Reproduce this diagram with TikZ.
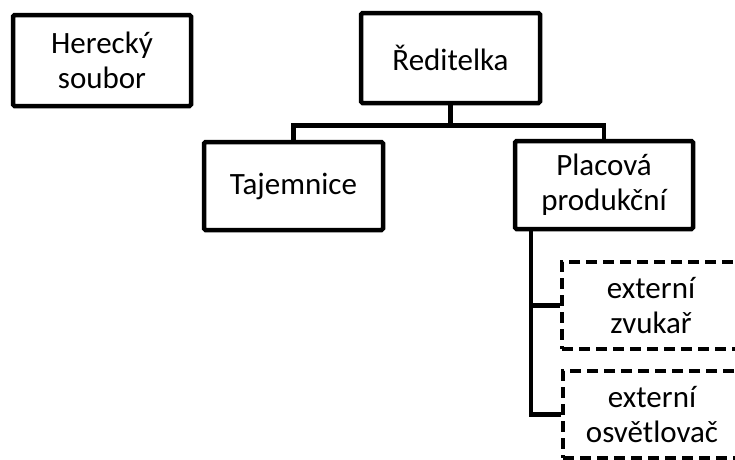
\documentclass[tikz,border=0pt]{standalone}
\usepackage{fontspec}
\setmainfont{Carlito}
\begin{document}
\begin{tikzpicture}[x=1pt,y=-1pt,
  box/.style={draw=black, line width=4.5pt, rounded corners=1.5pt, fill=white,
    align=center, inner sep=0pt, font=\fontsize{31}{35}\selectfont},
  extbox/.style={box, dash pattern=on 11pt off 6pt, rounded corners=0pt},
  link/.style={draw=black, line width=4.5pt}]
  \useasboundingbox (0,0) rectangle (735,459);
  \clip (0,0) rectangle (735,459);

  % management boxes
  \node[box, minimum width=178pt, minimum height=91pt] (her) at (102,60.5) {Herecký\\soubor};
  \node[box, minimum width=179pt, minimum height=90pt] (red) at (450.5,58) {Ředitelka};
  \node[box, minimum width=179pt, minimum height=88pt] (taj) at (293.5,186) {Tajemnice};
  \node[box, minimum width=178pt, minimum height=88pt] (plac) at (604,185) {Placová\\produkční};

  % external staff (dashed)
  \node[extbox, minimum width=178pt, minimum height=87pt] (zvuk) at (651,305.5) {externí\\zvukař};
  \node[extbox, minimum width=178pt, minimum height=87pt] (osv) at (652,414.5) {externí\\osvětlovač};

  % connectors
  \draw[link] (red.south) -- ++(0,20) -| (taj.north);
  \draw[link] (red.south) -- ++(0,20) -| (plac.north);
  \path (plac.south west) ++(18,0) coordinate (pstem);
  \draw[link] (pstem) |- (zvuk.west);
  \draw[link] (pstem) |- (osv.west);
\end{tikzpicture}
\end{document}
